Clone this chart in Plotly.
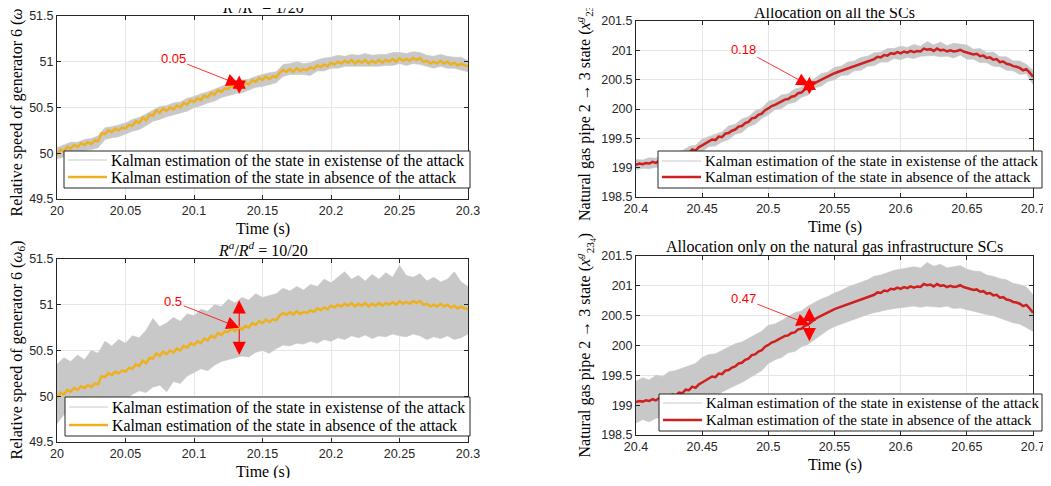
import plotly.graph_objects as go

# ---------------- data ----------------
t_left = [round(20.0 + 0.0025 * i, 4) for i in range(121)]
t_left_band = [round(20.0 + 0.005 * k, 3) for k in range(61)]
t_right = [round(20.4 + 0.0025 * i, 4) for i in range(121)]
t_right_band = [round(20.4 + 0.005 * k, 3) for k in range(61)]

omega_no_attack = [
    49.98, 50.04, 50.02, 50.07, 50.05, 50.09, 50.07, 50.11, 50.09, 50.12,
    50.10, 50.14, 50.13, 50.22, 50.21, 50.25, 50.23, 50.27, 50.25, 50.28,
    50.27, 50.31, 50.30, 50.35, 50.33, 50.39, 50.36, 50.42, 50.41, 50.47,
    50.44, 50.49, 50.46, 50.50, 50.48, 50.52, 50.50, 50.55, 50.53, 50.58,
    50.56, 50.60, 50.58, 50.63, 50.61, 50.66, 50.64, 50.69, 50.67, 50.71,
    50.70, 50.74, 50.71, 50.76, 50.73, 50.77, 50.75, 50.80, 50.78, 50.82,
    50.80, 50.84, 50.81, 50.84, 50.83, 50.88, 50.91, 50.89, 50.92, 50.89,
    50.93, 50.90, 50.92, 50.91, 50.94, 50.92, 50.96, 50.94, 50.97, 50.95,
    50.99, 50.97, 51.00, 50.98, 51.01, 50.99, 51.02, 50.98, 51.01, 50.99,
    51.02, 50.98, 51.01, 50.99, 51.02, 50.99, 51.02, 51.00, 51.03, 51.00,
    51.04, 51.01, 51.03, 51.01, 51.04, 51.02, 51.04, 51.00, 51.01, 50.98,
    51.00, 50.98, 51.01, 50.98, 51.00, 50.97, 50.99, 50.96, 50.98, 50.96,
    50.95,
]

omega_attack_1_upper = [
    50.06, 50.09, 50.12, 50.12, 50.15, 50.16, 50.19, 50.28, 50.29, 50.31,
    50.33, 50.37, 50.39, 50.43, 50.47, 50.51, 50.52, 50.55, 50.56, 50.60,
    50.62, 50.65, 50.67, 50.70, 50.73, 50.76, 50.77, 50.80, 50.81, 50.84,
    50.86, 50.88, 50.89, 50.97, 50.98, 51.00, 50.98, 50.99, 51.02, 51.04,
    51.05, 51.07, 51.06, 51.08, 51.07, 51.09, 51.07, 51.08, 51.08, 51.10,
    51.10, 51.09, 51.11, 51.10, 51.07, 51.06, 51.08, 51.06, 51.05, 51.05,
    51.01,
]
omega_attack_1_lower = [
    49.94, 49.96, 49.99, 50.01, 50.03, 50.04, 50.06, 50.15, 50.17, 50.18,
    50.21, 50.24, 50.26, 50.30, 50.35, 50.37, 50.40, 50.42, 50.44, 50.46,
    50.50, 50.52, 50.55, 50.57, 50.61, 50.63, 50.65, 50.66, 50.69, 50.72,
    50.73, 50.75, 50.77, 50.84, 50.86, 50.86, 50.86, 50.85, 50.90, 50.90,
    50.93, 50.93, 50.95, 50.95, 50.95, 50.95, 50.95, 50.95, 50.96, 50.96,
    50.98, 50.96, 50.98, 50.97, 50.95, 50.93, 50.95, 50.93, 50.93, 50.91,
    50.89,
]

omega_attack_10_upper = [
    50.35, 50.42, 50.38, 50.45, 50.40, 50.50, 50.47, 50.60, 50.55, 50.62,
    50.58, 50.66, 50.64, 50.72, 50.85, 50.76, 50.80, 50.86, 50.82, 50.90,
    50.88, 50.95, 50.93, 51.00, 50.98, 51.06, 51.02, 51.08, 51.05, 51.12,
    51.08, 51.10, 51.12, 51.18, 51.15, 51.20, 51.16, 51.22, 51.20, 51.28,
    51.24, 51.30, 51.36, 51.28, 51.32, 51.26, 51.33, 51.28, 51.35, 51.30,
    51.43, 51.32, 51.30, 51.34, 51.26, 51.30, 51.25, 51.28, 51.36, 51.25,
    51.20,
]
omega_attack_10_lower = [
    49.70, 49.80, 49.76, 49.84, 49.82, 49.88, 49.86, 49.92, 49.94, 49.98,
    49.97, 50.02, 50.06, 50.04, 50.10, 50.12, 50.05, 50.16, 50.14, 50.22,
    50.26, 50.30, 50.28, 50.34, 50.38, 50.40, 50.42, 50.44, 50.43, 50.48,
    50.50, 50.47, 50.52, 50.56, 50.55, 50.58, 50.57, 50.60, 50.58, 50.62,
    50.60, 50.64, 50.62, 50.66, 50.64, 50.67, 50.63, 50.66, 50.65, 50.68,
    50.66, 50.65, 50.68, 50.66, 50.62, 50.65, 50.63, 50.66, 50.62, 50.64,
    50.68,
]

gas_no_attack = [
    199.05, 199.07, 199.06, 199.08, 199.07, 199.10, 199.08, 199.12, 199.11, 199.15,
    199.13, 199.18, 199.16, 199.21, 199.20, 199.26, 199.25, 199.31, 199.29, 199.35,
    199.38, 199.41, 199.44, 199.48, 199.47, 199.53, 199.52, 199.58, 199.59, 199.63,
    199.65, 199.70, 199.71, 199.76, 199.78, 199.84, 199.85, 199.90, 199.92, 199.98,
    200.01, 200.05, 200.07, 200.10, 200.12, 200.16, 200.17, 200.21, 200.22, 200.27,
    200.28, 200.33, 200.35, 200.40, 200.44, 200.47, 200.50, 200.52, 200.55, 200.58,
    200.61, 200.63, 200.65, 200.68, 200.69, 200.72, 200.73, 200.76, 200.77, 200.80,
    200.81, 200.84, 200.85, 200.89, 200.88, 200.92, 200.91, 200.95, 200.94, 200.97,
    200.95, 200.98, 200.96, 200.99, 200.97, 200.99, 200.98, 201.03, 201.01, 201.02,
    200.99, 201.03, 201.00, 201.01, 200.98, 201.00, 200.98, 200.99, 201.01, 200.98,
    200.96, 200.94, 200.93, 200.94, 200.90, 200.91, 200.87, 200.88, 200.84, 200.85,
    200.80, 200.81, 200.77, 200.76, 200.73, 200.72, 200.70, 200.66, 200.68, 200.62,
    200.55,
]

gas_attack_all_upper = [
    199.14, 199.13, 199.17, 199.16, 199.21, 199.22, 199.27, 199.29, 199.36, 199.38,
    199.49, 199.53, 199.58, 199.61, 199.71, 199.74, 199.83, 199.87, 199.97, 200.01,
    200.13, 200.16, 200.24, 200.26, 200.34, 200.37, 200.46, 200.52, 200.60, 200.63,
    200.71, 200.73, 200.80, 200.82, 200.88, 200.90, 200.96, 200.97, 201.03, 201.03,
    201.07, 201.05, 201.10, 201.07, 201.15, 201.09, 201.14, 201.08, 201.12, 201.11,
    201.09, 201.02, 201.03, 200.96, 200.97, 200.89, 200.89, 200.82, 200.82, 200.76,
    200.66,
]
gas_attack_all_lower = [
    198.97, 198.99, 198.98, 199.01, 199.02, 199.05, 199.06, 199.12, 199.14, 199.21,
    199.27, 199.36, 199.37, 199.44, 199.48, 199.57, 199.60, 199.70, 199.74, 199.84,
    199.90, 199.99, 200.01, 200.09, 200.11, 200.20, 200.24, 200.36, 200.39, 200.47,
    200.50, 200.57, 200.58, 200.65, 200.66, 200.73, 200.74, 200.80, 200.80, 200.86,
    200.84, 200.88, 200.86, 200.90, 200.90, 200.91, 200.89, 200.90, 200.87, 200.92,
    200.85, 200.85, 200.79, 200.79, 200.73, 200.72, 200.66, 200.65, 200.59, 200.60,
    200.42,
]

gas_attack_gas_upper = [
    199.40, 199.46, 199.42, 199.50, 199.48, 199.56, 199.58, 199.62, 199.66, 199.70,
    199.80, 199.85, 199.86, 199.92, 199.98, 200.03, 200.06, 200.12, 200.18, 200.24,
    200.34, 200.36, 200.42, 200.48, 200.55, 200.58, 200.66, 200.72, 200.78, 200.82,
    200.88, 200.92, 200.98, 201.02, 201.06, 201.10, 201.16, 201.18, 201.22, 201.26,
    201.28, 201.30, 201.32, 201.30, 201.39, 201.33, 201.36, 201.30, 201.32, 201.34,
    201.28, 201.25, 201.24, 201.18, 201.16, 201.12, 201.10, 201.04, 201.02, 200.98,
    200.85,
]
gas_attack_gas_lower = [
    198.70, 198.76, 198.72, 198.78, 198.80, 198.84, 198.86, 198.90, 198.94, 199.00,
    199.08, 199.14, 199.15, 199.22, 199.28, 199.33, 199.38, 199.45, 199.52, 199.58,
    199.70, 199.76, 199.80, 199.88, 199.90, 199.98, 200.02, 200.10, 200.18, 200.26,
    200.32, 200.36, 200.40, 200.45, 200.48, 200.52, 200.55, 200.58, 200.60, 200.62,
    200.63, 200.64, 200.66, 200.64, 200.66, 200.65, 200.64, 200.66, 200.62, 200.63,
    200.60, 200.58, 200.55, 200.52, 200.50, 200.46, 200.42, 200.38, 200.36, 200.30,
    200.24,
]

# annotation values: (label, time, centre, half-span of the red double arrow)
marks = [
    ("0.05", 20.133, 50.75, 0.10),
    ("0.5", 20.133, 50.75, 0.30),
    ("0.18", 20.531, 200.40, 0.15),
    ("0.47", 20.531, 200.35, 0.28),
]

titles = [
    "<i>R</i><sup><i>a</i></sup>/<i>R</i><sup><i>d</i></sup> = 1/20",
    "<i>R</i><sup><i>a</i></sup>/<i>R</i><sup><i>d</i></sup> = 10/20",
    "Allocation on all the SCs",
    "Allocation only on the natural gas infrastructure SCs",
]
legend_names = [
    "Kalman estimation of the state in existense of the attack",
    "Kalman estimation of the state in absence of the attack",
]
ylabel_left = "Relative speed of generator 6 (<i>ω</i><sub>6</sub>)"
ylabel_right = "Natural gas pipe 2 → 3 state (<i>x</i><sup><i>g</i></sup><sub>23<sub>4</sub></sub>)"
xlabel = "Time (s)"

# ---------------- styling ----------------
WIN_W, WIN_H = 1051, 486
OFF = 8                     # default page margin of the html body
W, H = WIN_W - 2 * OFF, WIN_H - 2 * OFF   # keep the page free of scrollbars
SERIF = "Liberation Serif, Times New Roman, serif"
SANS = "Liberation Sans, Arial, Helvetica, sans-serif"
GRAY = "rgb(200,200,200)"
ORANGE = "#EDB120"
RED = "#D01F1F"
AXC = "#262626"

def px_x(p):
    return (p - OFF) / W

def px_y(p):
    return 1 - (p - OFF) / H

# plot rectangles in window pixels: (left, top, right, bottom)
rects = [
    (57, 16, 468, 199),
    (57, 259, 468, 442),
    (636, 21, 1033, 197),
    (636, 256, 1033, 435),
]
# legend boxes in window pixels: (left, top, right, bottom, row1, row2, font size)
legend_boxes = [
    (64, 151, 470, 188, 160, 177, 15.8),
    (65, 397, 470, 436, 407, 425, 15.8),
    (658, 151, 1042, 188, 161, 177, 14.9),
    (659, 394, 1042, 431, 403, 420, 14.9),
]

panels = [
    (t_left, omega_no_attack, t_left_band, omega_attack_1_lower, omega_attack_1_upper, ORANGE),
    (t_left, omega_no_attack, t_left_band, omega_attack_10_lower, omega_attack_10_upper, ORANGE),
    (t_right, gas_no_attack, t_right_band, gas_attack_all_lower, gas_attack_all_upper, RED),
    (t_right, gas_no_attack, t_right_band, gas_attack_gas_lower, gas_attack_gas_upper, RED),
]

fig = go.Figure()
annotations = []
shapes = []
layout = {}

for n, (tm, ym, tb, lo, up, col) in enumerate(panels):
    idx = "" if n == 0 else str(n + 1)
    xa, ya = "x" + idx, "y" + idx
    # gray band (state estimated with the attack)
    fig.add_trace(go.Scatter(x=tb, y=lo, xaxis=xa, yaxis=ya, mode="lines",
                             line=dict(color=GRAY, width=0.6), showlegend=False,
                             name=legend_names[0], hoverinfo="skip"))
    fig.add_trace(go.Scatter(x=tb, y=up, xaxis=xa, yaxis=ya, mode="lines",
                             line=dict(color=GRAY, width=0.6), fill="tonexty",
                             fillcolor=GRAY, showlegend=False, name=legend_names[0],
                             hoverinfo="skip"))
    fig.add_trace(go.Scatter(x=tm, y=ym, xaxis=xa, yaxis=ya, mode="lines",
                             line=dict(color=col, width=2.5), name=legend_names[1],
                             showlegend=False))

    l, t, r, b = rects[n]
    left = n < 2
    common = dict(showgrid=True, gridcolor="#E6E6E6", gridwidth=1,
                  showline=True, linecolor=AXC, linewidth=1, mirror="ticks",
                  ticks="inside", ticklen=4, tickcolor=AXC, automargin=False,
                  ticklabeloverflow="allow",
                  tickfont=dict(family=SANS, size=12.5, color=AXC), zeroline=False)
    layout["xaxis" + idx] = dict(domain=[px_x(l), px_x(r)], anchor=ya,
                                 range=[20.0, 20.3] if left else [20.4, 20.7],
                                 tick0=20.0 if left else 20.4, dtick=0.05, **common)
    layout["yaxis" + idx] = dict(domain=[px_y(b), px_y(t)], anchor=xa,
                                 range=[49.5, 51.5] if left else [198.5, 201.5],
                                 dtick=0.5, **common)

    # legend box drawn in the MATLAB style
    bl, bt, br, bb, r1, r2, fs = legend_boxes[n]
    shapes.append(dict(type="rect", xref="paper", yref="paper",
                       x0=px_x(bl), x1=px_x(br), y0=px_y(bb), y1=px_y(bt),
                       fillcolor="white", line=dict(color=AXC, width=1), layer="above"))
    for row, lc, lw, name in ((r1, GRAY, 1, legend_names[0]), (r2, col, 2.5, legend_names[1])):
        shapes.append(dict(type="line", xref="paper", yref="paper",
                           x0=px_x(bl + 4), x1=px_x(bl + 43), y0=px_y(row), y1=px_y(row),
                           line=dict(color=lc, width=lw), layer="above"))
        annotations.append(dict(text=name, x=px_x(bl + 45), y=px_y(row), xref="paper",
                                yref="paper", xanchor="left", yanchor="middle",
                                showarrow=False,
                                font=dict(family=SERIF, size=fs, color="black")))

    cx = (l + r) / 2
    annotations.append(dict(text=titles[n], x=px_x(cx), y=px_y(t + 2), xref="paper",
                            yref="paper", xanchor="center", yanchor="bottom",
                            showarrow=False, font=dict(family=SERIF, size=16, color="black")))
    annotations.append(dict(text=xlabel, x=px_x(cx), y=px_y(b + 19), xref="paper",
                            yref="paper", xanchor="center", yanchor="top",
                            showarrow=False, font=dict(family=SERIF, size=16, color="black")))
    annotations.append(dict(text=ylabel_left if left else ylabel_right,
                            x=px_x(17 if left else 585), y=px_y((t + b) / 2),
                            xref="paper", yref="paper", xanchor="center", yanchor="middle",
                            textangle=-90, showarrow=False,
                            font=dict(family=SERIF, size=16, color="black")))

    # red double arrow and its label
    lab, tx, cy, hs = marks[n]
    for sgn in (1, -1):
        annotations.append(dict(x=tx, y=cy + sgn * hs, ax=tx, ay=cy, xref=xa, yref=ya,
                                axref=xa, ayref=ya, text="", showarrow=True,
                                arrowhead=2, arrowsize=2.4, arrowwidth=1.1,
                                arrowcolor="red"))
    annotations.append(dict(x=tx, y=cy, xref=xa, yref=ya, text=lab, showarrow=True,
                            arrowhead=2, arrowsize=3.2, arrowwidth=0.8, arrowcolor="red",
                            ax=-66, ay=-26 if n != 2 else -36, standoff=0,
                            font=dict(family=SANS, size=13, color="red")))

fig.update_layout(**layout)
fig.update_layout(width=W, height=H, margin=dict(l=0, r=0, t=0, b=0, autoexpand=False),
                  paper_bgcolor="white", plot_bgcolor="white",
                  annotations=annotations, shapes=shapes, showlegend=False)

fig.write_html("out.html")
